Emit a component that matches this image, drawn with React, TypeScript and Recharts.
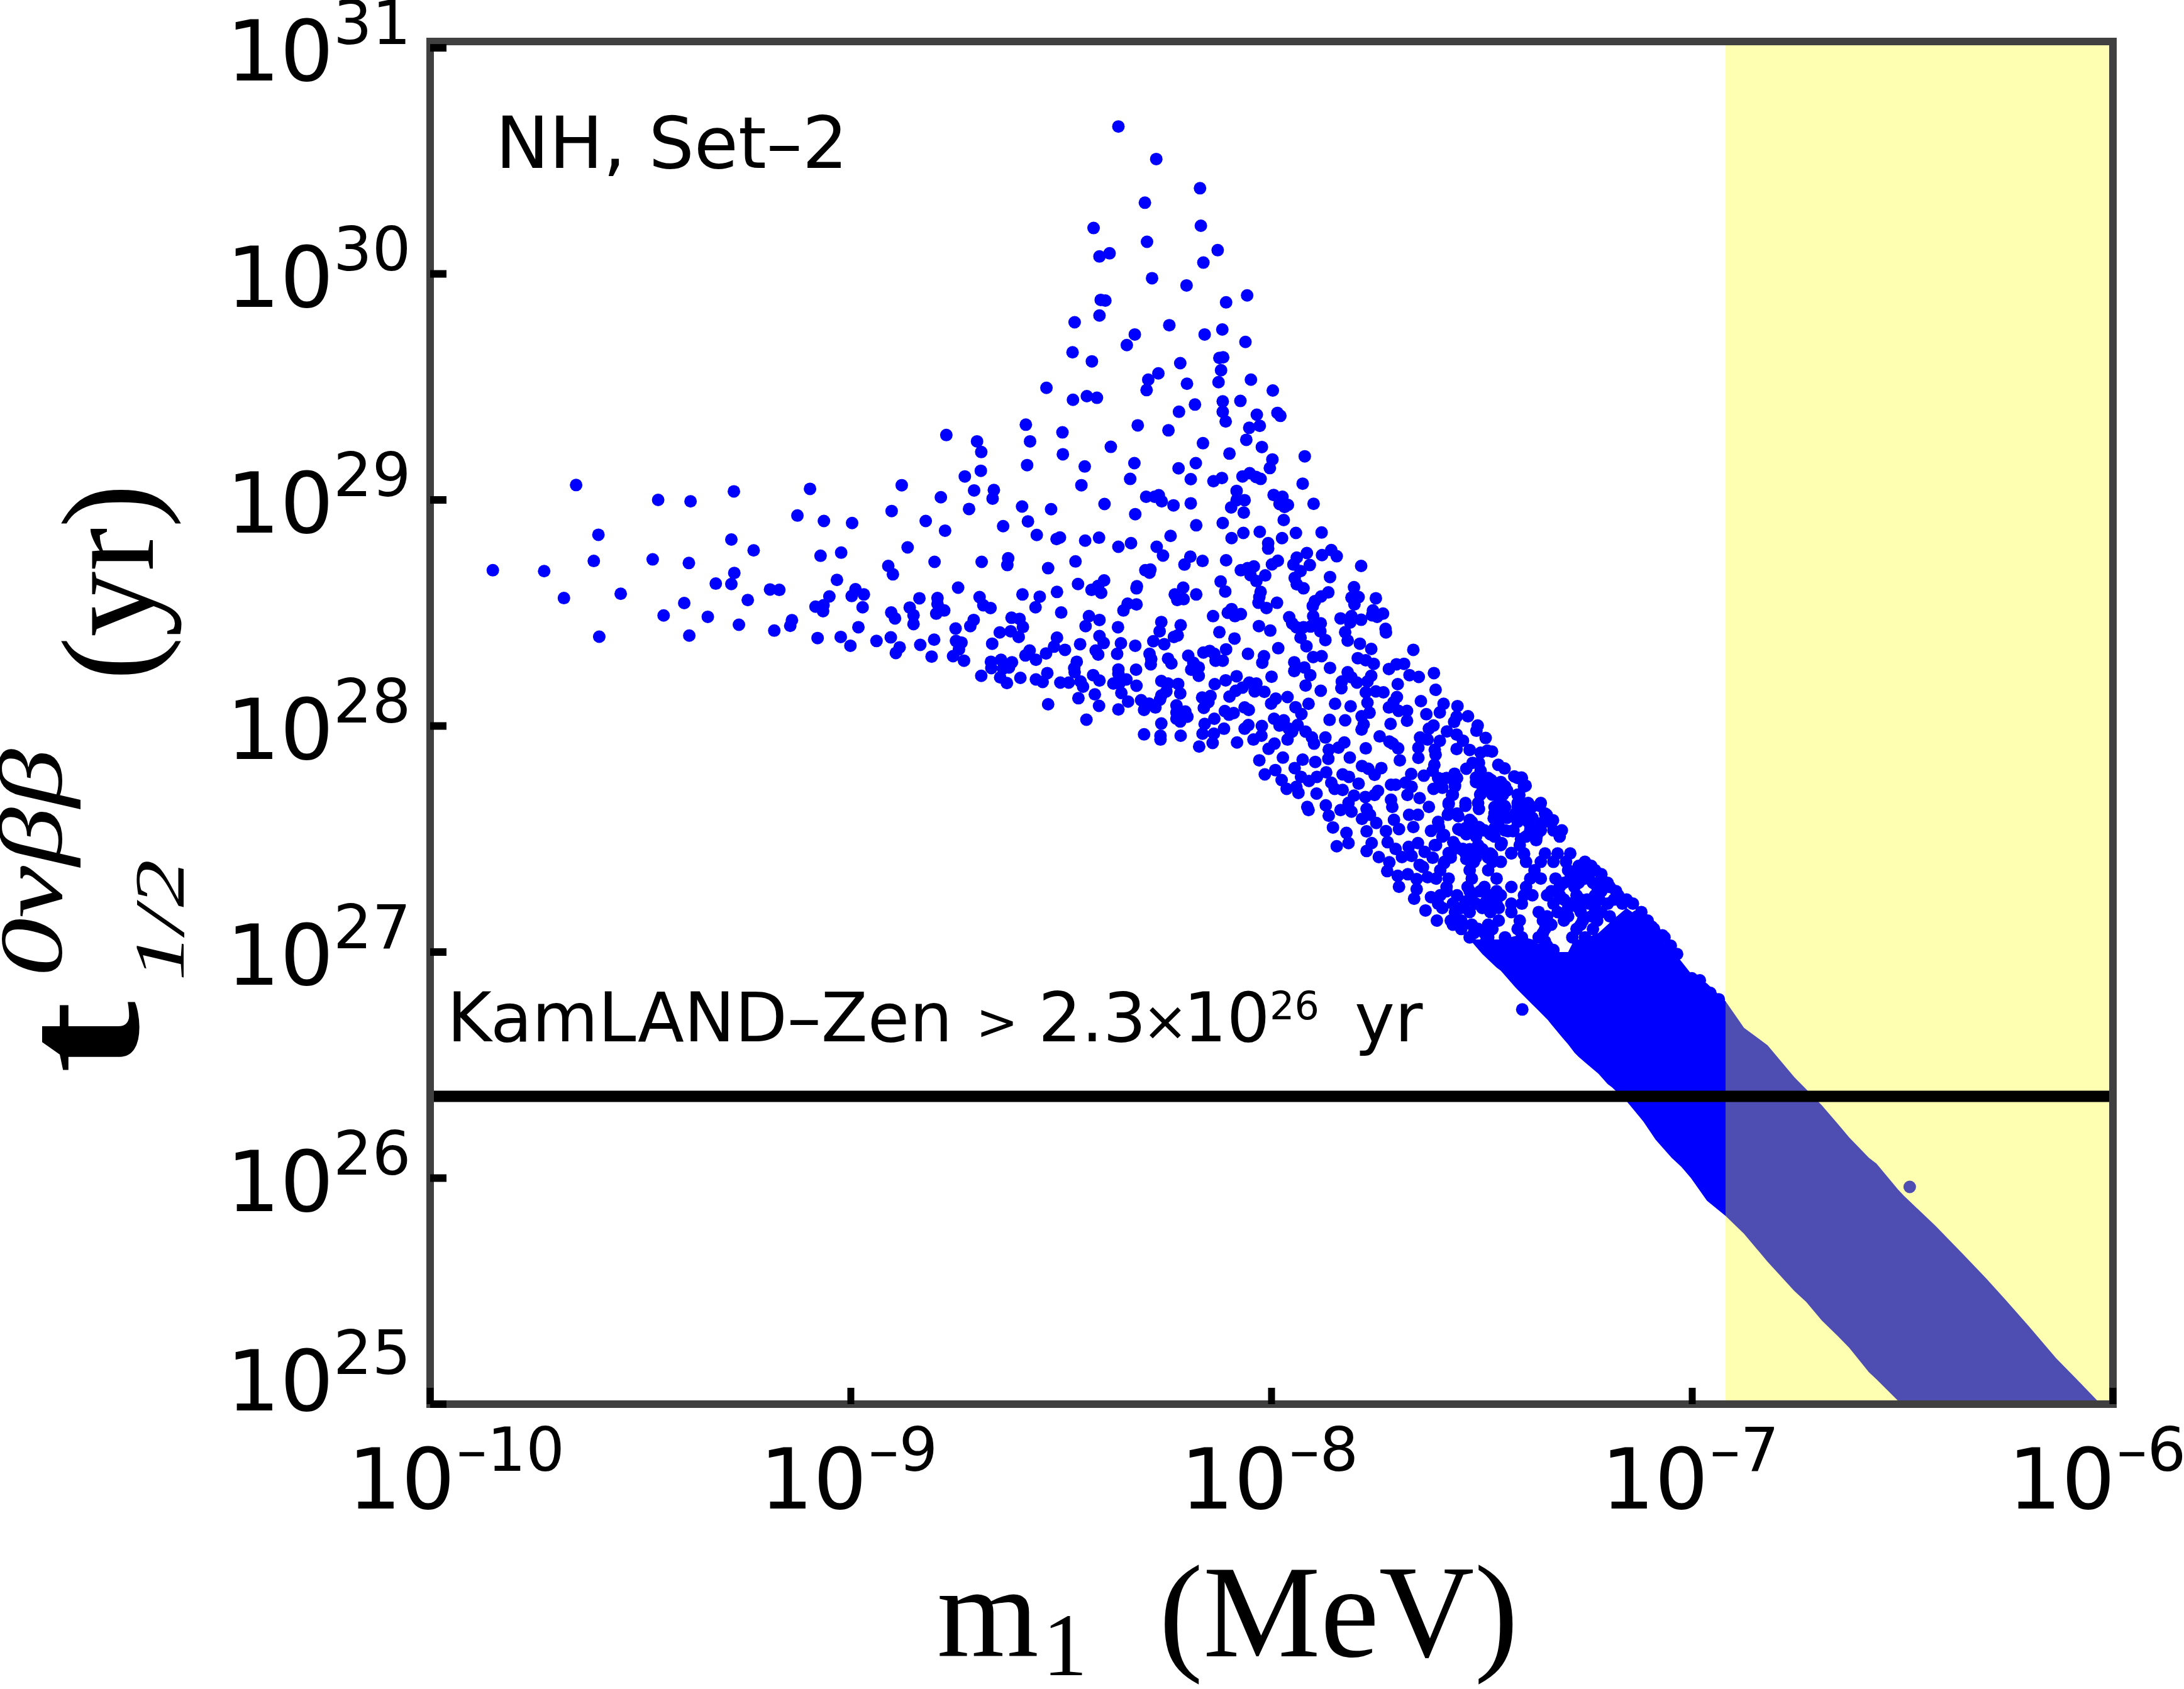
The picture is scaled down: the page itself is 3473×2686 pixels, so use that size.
import React from "react";
import { ComposedChart, Area, Scatter, XAxis, YAxis, ReferenceArea, ReferenceLine } from "recharts";

// All values are log10(m1 / MeV), log10(t / yr).
const xExponents = [-10, -9, -8, -7, -6];
const yExponents = [25, 26, 27, 28, 29, 30, 31];
const kamlandLimit = 2.3e26;
const excludedFrom = 1.2e-7;

const wingDots: number[][] = [
[-9.851,28.689],[-9.729,28.685],[-9.611,28.730],[-9.682,28.566],[-9.547,28.585],[-9.598,28.395],[-9.653,29.066],[-9.600,28.846],[-9.471,28.737],[-9.458,29.000],[-9.381,28.994],[-9.385,28.721],[-9.396,28.544],[-9.445,28.489],[-9.340,28.483],[-9.384,28.400],[-9.321,28.630],[-9.284,28.628],[-9.277,28.677],[-9.284,28.825],[-9.231,28.777],[-9.278,29.038],[-9.245,28.557],[-9.266,28.448],[-9.182,28.422],[-9.192,28.604],[-9.170,28.602],[-9.144,28.443],[-9.140,28.468],[-9.127,28.931],[-9.097,29.049],[-9.084,28.528],
];

const plumeDots: number[][] = [
[-8.364,30.652],[-8.274,30.508],[-8.170,30.379],[-8.301,30.315],[-8.168,30.213],[-8.423,30.203],[-8.296,30.142],[-8.128,30.105],[-8.385,30.091],[-8.409,30.077],[-8.162,30.050],[-8.284,29.981],[-8.202,29.949],[-8.058,29.905],[-8.406,29.885],[-8.395,29.882],[-8.108,29.874],[-8.409,29.816],[-8.468,29.786],[-8.243,29.773],[-8.117,29.754],[-8.325,29.732],[-8.159,29.732],[-8.062,29.699],[-8.344,29.685],[-8.473,29.653],[-8.427,29.613],[-8.115,29.631],[-8.124,29.628],[-8.217,29.605],[-8.120,29.574],[-8.269,29.560],[-8.293,29.532],[-8.049,29.532],[-8.126,29.521],[-8.201,29.514],[-8.535,29.496],[-8.297,29.486],[-7.997,29.484],[-8.439,29.459],[-8.415,29.452],[-8.472,29.443],[-8.116,29.436],[-8.074,29.438],[-8.182,29.422],[-8.220,29.390],[-8.116,29.390],[-7.986,29.385],[-7.979,29.372],[-8.035,29.377],[-8.109,29.347],[-8.584,29.333],[-8.318,29.330],[-8.028,29.328],[-8.053,29.319],[-8.245,29.308],[-8.497,29.299],[-8.773,29.287],[-8.060,29.266],[-8.700,29.259],[-8.574,29.259],[-8.163,29.251],[-8.382,29.235],[-8.023,29.234],[-8.690,29.212],[-8.100,29.205],[-8.496,29.202],[-7.921,29.193],[-7.998,29.179],[-8.326,29.163],[-8.180,29.163],[-8.581,29.154],[-8.444,29.148],[-8.004,29.141],[-8.221,29.140],[-8.691,29.129],[-8.069,29.104],[-8.052,29.118],[-8.037,29.102],[-8.026,29.093],[-8.729,29.104],[-8.336,29.093],[-8.192,29.092],[-8.118,29.097],[-8.138,29.083],[-8.879,29.065],[-8.452,29.065],[-7.926,29.072],[-8.707,29.042],[-8.660,29.044],[-8.083,29.040],[-7.995,29.022],[-8.663,29.006],[-8.298,29.014],[-8.268,29.021],[-8.278,29.014],[-8.261,28.994],[-7.974,29.014],[-8.786,29.012],[-8.064,28.999],[-8.083,28.999],[-8.397,28.982],[-7.900,28.983],[-8.192,28.985],[-8.233,28.976],[-7.981,28.982],[-7.961,28.978],[-7.969,28.969],[-8.096,28.967],[-8.593,28.971],[-8.719,28.960],[-8.524,28.959],[-8.903,28.951],[-8.066,28.944],[-8.324,28.937],[-9.064,28.907],[-8.997,28.898],[-8.822,28.907],[-7.971,28.911],[-8.579,28.905],[-8.116,28.898],[-8.179,28.888],[-8.638,28.884],[-7.881,28.856],[-8.776,28.864],[-7.942,28.854],[-8.028,28.859],[-8.067,28.854],[-8.558,28.845],[-8.240,28.841],[-8.503,28.834],[-8.511,28.827],[-8.410,28.833],[-8.095,28.831],[-7.975,28.831],[-8.443,28.820],[-8.334,28.809],[-8.008,28.809],[-8.008,28.785],[-8.364,28.793],[-8.273,28.793],[-8.865,28.790],[-9.023,28.767],[-7.858,28.778],[-7.916,28.765],[-7.880,28.756],[-7.845,28.751],[-9.072,28.753],[-8.258,28.754],[-8.193,28.749],[-7.940,28.745],[-8.626,28.742],[-8.164,28.730],[-8.108,28.733],[-7.985,28.731],[-8.689,28.726],[-8.801,28.726],[-8.466,28.728],[-8.628,28.712],[-8.207,28.714],[-7.999,28.715],[-7.948,28.714],[-7.909,28.712],[-8.911,28.708],[-8.042,28.706],[-8.057,28.698],[-8.073,28.689],[-7.787,28.708],[-8.531,28.698],[-8.300,28.689],[-8.288,28.692],[-8.290,28.678],[-7.931,28.685],[-8.900,28.671],[-8.015,28.666],[-8.050,28.667],[-8.036,28.641],[-7.945,28.655],[-7.861,28.659],[-8.121,28.639],[-9.033,28.646],[-8.398,28.644],[-8.460,28.628],[-8.745,28.612],[-7.940,28.627],[-7.804,28.614],[-8.320,28.618],[-8.321,28.609],[-7.924,28.609],[-8.210,28.612],[-8.428,28.602],[-8.412,28.620],[-8.989,28.605],[-8.405,28.589],[-8.110,28.595],[-8.510,28.593],[-8.026,28.593],[-8.029,28.570],[-7.865,28.591],[-8.969,28.582],[-8.998,28.575],[-8.592,28.582],[-8.230,28.582],[-8.179,28.582],[-7.882,28.573],[-9.051,28.573],[-8.551,28.572],[-8.694,28.570],[-7.810,28.568],[-7.793,28.570],[-7.752,28.565],[-8.794,28.566],[-8.837,28.565],[-8.209,28.561],[-8.224,28.557],[-7.897,28.552],[-8.342,28.541],[-8.321,28.538],[-7.987,28.545],[-7.803,28.538],[-8.031,28.545],[-7.902,28.531],[-8.685,28.534],[-8.668,28.522],[-8.794,28.540],[-9.065,28.534],[-8.972,28.525],[-8.860,28.524],[-8.561,28.525],[-8.012,28.522],[-8.352,28.511],[-8.095,28.517],[-8.500,28.502],[-8.904,28.502],[-9.066,28.508],[-8.104,28.501],[-8.073,28.495],[-8.778,28.511],[-8.797,28.497],[-7.759,28.511],[-7.735,28.497],[-8.087,28.486],[-8.851,28.490],[-8.895,28.476],[-8.139,28.486],[-7.901,28.486],[-8.434,28.486],[-7.958,28.481],[-7.836,28.476],[-7.810,28.486],[-7.787,28.470],[-7.761,28.490],[-7.749,28.483],[-8.618,28.479],[-8.599,28.474],[-8.708,28.469],[-8.409,28.469],[-8.262,28.460],[-7.813,28.458],[-7.883,28.454],[-7.951,28.454],[-8.716,28.442],[-8.851,28.451],[-8.216,28.446],[-8.442,28.442],[-8.030,28.442],[-7.941,28.437],[-7.924,28.437],[-7.907,28.440],[-8.591,28.438],[-8.365,28.437],[-8.751,28.431],[-8.266,28.419],[-8.620,28.419],[-8.646,28.414],[-8.003,28.422],[-7.729,28.430],[-7.728,28.414],[-7.884,28.419],[-7.825,28.415],[-8.124,28.415],[-8.982,28.437],[-8.223,28.401],[-8.232,28.394],[-8.409,28.398],[-8.601,28.394],[-9.024,28.394],[-8.510,28.391],[-8.905,28.392],[-7.931,28.391],[-8.088,28.387],[-7.872,28.380],[-9.079,28.389],[-8.939,28.376],[-8.802,28.382],[-8.750,28.376],[-8.737,28.369],[-7.819,28.378],[-8.281,28.375],[-8.399,28.367],[-8.255,28.362],[-8.358,28.366],[-8.835,28.359],[-9.001,28.355],[-8.664,28.364],[-8.455,28.362],[-8.324,28.355],[-7.790,28.364],[-7.917,28.353],[-8.517,28.351],[-8.884,28.348],[-7.984,28.344],[-7.663,28.337],[-8.575,28.334],[-8.491,28.337],[-8.743,28.339],[-8.418,28.334],[-8.108,28.339],[-7.763,28.341],[-8.162,28.325],[-8.147,28.332],[-8.893,28.323],[-8.536,28.321],[-8.367,28.319],[-8.290,28.319],[-8.412,28.316],[-8.136,28.319],[-8.585,28.312],[-8.056,28.319],[-8.198,28.311],[-8.808,28.307],[-8.757,28.309],[-8.018,28.309],[-7.901,28.305],[-7.881,28.309],[-8.286,28.296],[-8.246,28.298],[-8.560,28.293],[-8.731,28.289],[-7.795,28.300],[-8.133,28.289],[-8.116,28.289],[-8.463,28.284],[-8.643,28.293],[-8.617,28.282],[-8.667,28.284],[-8.238,28.277],[-7.946,28.282],[-8.186,28.280],[-8.022,28.280],[-8.287,28.273],[-7.685,28.275],[-7.703,28.273],[-7.776,28.291],[-7.757,28.275],[-8.469,28.256],[-8.624,28.259],[-8.666,28.256],[-8.638,28.254],[-7.861,28.257],[-7.721,28.252],[-8.182,28.268],[-8.173,28.259],[-7.946,28.243],[-7.922,28.259],[-8.322,28.249],[-8.364,28.250],[-8.191,28.249],[-8.468,28.238],[-8.364,28.231],[-8.533,28.234],[-7.819,28.238],[-7.614,28.234],[-8.424,28.225],[-7.908,28.225],[-8.690,28.222],[-8.173,28.222],[-7.672,28.225],[-8.645,28.215],[-8.597,28.213],[-8.000,28.218],[-7.650,28.217],[-8.083,28.220],[-8.560,28.206],[-8.409,28.201],[-8.345,28.206],[-8.262,28.199],[-8.109,28.202],[-7.810,28.215],[-7.763,28.222],[-7.772,28.197],[-8.629,28.190],[-8.544,28.195],[-8.502,28.192],[-8.482,28.192],[-8.454,28.197],[-8.376,28.188],[-8.362,28.188],[-8.246,28.188],[-8.222,28.186],[-8.053,28.192],[-8.036,28.188],[-8.135,28.185],[-7.833,28.197],[-7.797,28.192],[-8.448,28.174],[-8.321,28.178],[-7.919,28.179],[-7.700,28.185],[-7.834,28.167],[-8.069,28.170],[-8.357,28.146],[-8.250,28.153],[-8.085,28.156],[-7.883,28.156],[-7.610,28.160],[-8.040,28.153],[-8.017,28.151],[-7.776,28.149],[-7.752,28.153],[-7.734,28.149],[-8.420,28.140],[-8.100,28.130],[-8.262,28.135],[-8.217,28.144],[-8.165,28.126],[-8.145,28.133],[-8.341,28.108],[-8.459,28.123],[-7.702,28.128],[-7.962,28.128],[-7.990,28.121],[-8.310,28.114],[-8.001,28.099],[-7.912,28.098],[-7.772,28.103],[-7.849,28.098],[-8.291,28.099],[-8.150,28.106],[-7.645,28.110],[-8.265,28.117],[-7.710,28.105],[-8.531,28.096],[-8.410,28.089],[-8.226,28.091],[-8.276,28.082],[-7.812,28.087],[-8.161,28.080],[-7.943,28.083],[-8.064,28.082],[-8.364,28.073],[-8.303,28.071],[-8.054,28.071],[-7.591,28.098],[-7.721,28.082],[-7.698,28.067],[-7.678,28.067],[-8.111,28.066],[-7.929,28.053],[-8.226,28.060],[-8.205,28.064],[-8.090,28.057],[-8.101,28.050],[-7.600,28.060],[-7.632,28.052],[-7.767,28.059],[-8.200,28.041],[-7.786,28.043],[-7.994,28.032],[-8.136,28.032],[-8.226,28.032],[-7.862,28.027],[-8.217,28.020],[-8.440,28.028],[-7.825,28.025],[-7.678,28.023],[-7.971,28.025],[-7.717,28.009],[-8.159,28.009],[-8.262,28.011],[-8.055,28.004],[-7.781,28.007],[-8.023,28.000],[-8.113,27.988],[-8.064,27.988],[-7.981,28.002],[-7.615,28.002],[-7.938,28.004],[-7.959,27.988],[-7.786,27.984],[-7.626,27.988],[-7.951,27.975],[-8.164,27.966],[-8.264,27.957],[-8.303,27.963],[-8.216,27.957],[-8.137,27.966],[-8.024,27.957],[-7.919,27.975],[-7.904,27.949],[-8.043,27.940],[-8.264,27.940],[-7.872,27.949],[-8.082,27.927],[-7.827,27.927],[-7.743,27.954],[-7.647,27.949],[-7.629,27.940],[-7.600,27.934],[-7.720,27.931],[-7.712,27.922],[-8.140,27.925],[-8.172,27.909],[-7.993,27.922],[-7.962,27.940],[-8.007,27.899],[-7.899,27.922],[-7.841,27.904],[-7.776,27.901],[-7.699,27.901],[-7.651,27.904],[-7.612,27.895],[-7.864,27.895],
];

const tailDots: number[][] = [
[-7.558,28.088],[-7.533,28.043],[-7.510,28.002],[-7.513,27.979],[-7.491,27.947],[-7.560,28.041],[-7.566,28.018],[-7.583,27.976],[-7.560,27.962],[-7.545,27.935],[-7.560,27.898],[-7.529,27.894],[-7.487,27.891],[-7.476,27.887],[-7.503,27.882],[-7.814,27.860],[-7.973,27.860],[-8.029,27.848],[-7.695,27.848],[-7.651,27.859],[-7.610,27.873],[-7.461,27.828],[-7.446,27.812],[-7.522,27.837],[-7.537,27.811],[-7.613,27.828],[-7.507,27.837],[-7.503,27.802],[-7.991,27.805],[-8.016,27.786],[-7.945,27.814],[-7.926,27.851],[-7.896,27.841],[-7.865,27.855],[-7.565,27.789],[-7.668,27.788],[-7.638,27.780],[-7.831,27.786],[-7.816,27.775],[-7.870,27.795],[-7.785,27.823],[-7.770,27.811],[-7.739,27.814],[-7.755,27.784],[-7.423,27.777],[-7.406,27.772],[-7.396,27.736],[-7.478,27.761],[-7.514,27.772],[-7.617,27.802],[-7.594,27.766],[-7.976,27.761],[-7.930,27.775],[-7.911,27.757],[-7.892,27.775],[-7.964,27.722],[-7.941,27.731],[-7.936,27.704],[-7.858,27.749],[-7.850,27.722],[-7.831,27.717],[-7.793,27.745],[-7.747,27.713],[-7.682,27.749],[-7.705,27.740],[-7.716,27.740],[-7.667,27.731],[-7.615,27.722],[-7.594,27.727],[-7.564,27.740],[-7.503,27.699],[-7.446,27.727],[-7.468,27.722],[-7.484,27.740],[-7.893,27.701],[-7.677,27.695],[-7.648,27.681],[-7.755,27.695],[-7.777,27.686],[-7.804,27.692],[-7.571,27.695],[-7.411,27.695],[-7.461,27.686],[-7.716,27.674],[-7.817,27.660],[-7.915,27.642],[-7.871,27.649],[-7.836,27.628],[-7.810,27.621],[-7.713,27.642],[-7.626,27.642],[-7.579,27.654],[-7.539,27.647],[-7.507,27.633],[-7.465,27.642],[-7.446,27.646],[-7.362,27.647],[-7.381,27.642],[-7.411,27.642],[-7.774,27.633],[-7.912,27.628],[-7.864,27.603],[-7.785,27.589],[-7.766,27.607],[-7.673,27.607],[-7.652,27.607],[-7.581,27.607],[-7.556,27.601],[-7.472,27.592],[-7.423,27.603],[-7.346,27.607],[-7.404,27.598],[-7.331,27.583],[-7.854,27.551],[-7.709,27.585],[-7.751,27.571],[-7.663,27.553],[-7.529,27.585],[-7.556,27.544],[-7.602,27.553],[-7.621,27.536],[-7.507,27.553],[-7.461,27.571],[-7.438,27.535],[-7.384,27.553],[-7.358,27.571],[-7.822,27.527],[-7.774,27.534],[-7.728,27.535],[-7.697,27.544],[-7.590,27.518],[-7.537,27.521],[-7.480,27.521],[-7.453,27.482],[-7.407,27.500],[-7.371,27.495],[-7.845,27.468],[-7.817,27.482],[-7.762,27.482],[-7.724,27.486],[-7.612,27.473],[-7.568,27.486],[-7.652,27.482],[-7.426,27.535],[-7.774,27.447],[-7.674,27.465],[-7.705,27.456],[-7.636,27.443],[-7.579,27.438],[-7.545,27.456],[-7.507,27.443],[-7.476,27.429],[-7.430,27.438],[-7.400,27.433],[-7.745,27.420],[-7.617,27.417],[-7.690,27.420],[-7.667,27.425],[-7.720,27.397],[-7.590,27.393],[-7.648,27.385],[-7.537,27.411],[-7.725,27.358],[-7.676,27.344],[-7.640,27.376],[-7.700,27.337],[-7.655,27.323],[-7.629,27.331],[-7.697,27.289],[-7.655,27.278],[-7.661,27.236],[-7.621,27.243],[-7.634,27.184],
];

const strayDots: number[][] = [[-7.404, 26.746], [-6.483, 25.961]];

const crowdedDots: number[][] = [
[-7.604,27.770],[-7.584,27.770],[-7.559,27.770],[-7.509,27.770],[-7.485,27.770],[-7.415,27.770],[-7.405,27.770],
[-7.514,27.752],[-7.475,27.752],[-7.455,27.752],
[-7.599,27.733],[-7.564,27.733],[-7.499,27.733],[-7.465,27.733],[-7.445,27.733],[-7.400,27.733],
[-7.494,27.715],[-7.470,27.715],[-7.440,27.715],
[-7.569,27.696],[-7.504,27.696],[-7.475,27.696],[-7.450,27.696],[-7.415,27.696],
[-7.579,27.659],[-7.539,27.659],[-7.509,27.659],[-7.455,27.659],[-7.415,27.659],[-7.390,27.659],[-7.360,27.659],
[-7.470,27.641],[-7.445,27.641],[-7.415,27.641],[-7.395,27.641],
[-7.579,27.613],[-7.559,27.613],[-7.470,27.613],[-7.450,27.613],[-7.420,27.613],[-7.395,27.613],[-7.350,27.613],
[-7.465,27.594],[-7.440,27.594],[-7.405,27.594],[-7.380,27.594],
[-7.604,27.576],[-7.524,27.576],[-7.465,27.576],[-7.415,27.576],[-7.390,27.576],[-7.340,27.576],
[-7.539,27.548],[-7.504,27.548],[-7.470,27.548],
[-7.549,27.538],[-7.519,27.538],[-7.494,27.538],[-7.445,27.538],[-7.425,27.538],[-7.385,27.538],[-7.360,27.538],[-7.330,27.538],[-7.310,27.538],
[-7.594,27.511],[-7.514,27.511],[-7.470,27.511],[-7.395,27.511],[-7.370,27.511],[-7.315,27.511],
[-7.609,27.473],[-7.564,27.473],[-7.509,27.473],[-7.455,27.473],[-7.410,27.473],
[-7.549,27.455],[-7.529,27.455],[-7.499,27.455],
[-7.574,27.436],[-7.539,27.436],[-7.514,27.436],[-7.480,27.436],[-7.430,27.436],[-7.400,27.436],[-7.350,27.436],[-7.320,27.436],[-7.290,27.436],
[-7.574,27.418],[-7.514,27.418],[-7.485,27.418],
[-7.589,27.399],[-7.519,27.399],[-7.475,27.399],[-7.455,27.399],[-7.395,27.399],[-7.360,27.399],[-7.330,27.399],[-7.300,27.399],[-7.255,27.399],
[-7.270,27.381],[-7.240,27.381],
[-7.599,27.362],[-7.529,27.362],[-7.485,27.362],[-7.375,27.362],[-7.295,27.362],[-7.265,27.362],[-7.231,27.362],
[-7.275,27.344],[-7.245,27.344],[-7.216,27.344],
[-7.609,27.325],[-7.579,27.325],[-7.524,27.325],[-7.465,27.325],[-7.385,27.325],[-7.360,27.325],[-7.325,27.325],[-7.290,27.325],[-7.255,27.325],[-7.216,27.325],
[-7.305,27.306],[-7.270,27.306],[-7.236,27.306],[-7.201,27.306],
[-7.584,27.288],[-7.534,27.288],[-7.494,27.288],[-7.430,27.288],[-7.395,27.288],[-7.315,27.288],[-7.280,27.288],[-7.226,27.288],[-7.196,27.288],
[-7.584,27.269],[-7.529,27.269],[-7.504,27.269],[-7.465,27.269],[-7.335,27.269],[-7.216,27.269],[-7.181,27.269],
[-7.599,27.251],[-7.559,27.251],[-7.524,27.251],[-7.480,27.251],[-7.455,27.251],[-7.400,27.251],[-7.380,27.251],[-7.345,27.251],[-7.315,27.251],[-7.275,27.251],[-7.231,27.251],[-7.176,27.251],
[-7.305,27.232],[-7.265,27.232],[-7.250,27.232],[-7.221,27.232],[-7.186,27.232],[-7.156,27.232],
[-7.539,27.223],[-7.490,27.223],[-7.470,27.223],
[-7.604,27.214],[-7.569,27.214],[-7.514,27.214],[-7.465,27.214],[-7.430,27.214],[-7.405,27.214],[-7.330,27.214],[-7.290,27.214],[-7.245,27.214],[-7.201,27.214],[-7.166,27.214],[-7.141,27.214],
[-7.594,27.195],[-7.549,27.195],[-7.499,27.195],[-7.460,27.195],[-7.295,27.195],[-7.270,27.195],[-7.231,27.195],
[-7.564,27.177],[-7.529,27.177],[-7.480,27.177],[-7.430,27.177],[-7.365,27.177],[-7.320,27.177],[-7.265,27.177],[-7.216,27.177],[-7.121,27.177],
[-7.345,27.158],[-7.295,27.158],[-7.240,27.158],[-7.196,27.158],[-7.131,27.158],
[-7.607,27.139],[-7.574,27.139],[-7.549,27.139],[-7.460,27.139],[-7.410,27.139],[-7.355,27.139],[-7.305,27.139],[-7.260,27.139],[-7.226,27.139],[-7.106,27.139],
[-7.569,27.121],[-7.524,27.121],[-7.485,27.121],[-7.335,27.121],[-7.265,27.121],
[-7.549,27.102],[-7.509,27.102],[-7.475,27.102],[-7.415,27.102],[-7.350,27.102],[-7.275,27.102],[-7.236,27.102],[-7.091,27.102],
[-7.519,27.084],[-7.494,27.084],[-7.355,27.084],
[-7.529,27.065],[-7.485,27.065],[-7.445,27.065],[-7.405,27.065],[-7.365,27.065],[-7.285,27.065],[-7.255,27.065],[-7.181,27.065],[-7.086,27.065],[-7.066,27.065],
[-7.490,27.047],[-7.445,27.047],[-7.405,27.047],[-7.350,27.047],
[-7.345,27.028],[-7.051,27.028],
[-7.365,27.009],[-7.330,27.009],
[-7.036,26.991],
[-7.001,26.884],[-6.982,26.875],[-6.957,26.819],[-6.937,26.791],[-7.096,27.112],[-7.071,27.074],
];

// The solid part of the band: log10(m1), lower edge, upper edge.
const bandM1 = [-7.529,-7.499,-7.465,-7.455,-7.422,-7.415,-7.380,-7.370,-7.343,-7.335,-7.308,-7.295,-7.280,-7.270,-7.250,-7.223,-7.201,-7.191,-7.156,-7.116,-7.087,-7.049,-7.026,-7.003,-6.965,-6.921,-6.877,-6.821,-6.757,-6.729,-6.692,-6.654,-6.627,-6.580,-6.562,-6.511,-6.497,-6.422,-6.357,-6.302,-6.255,-6.200,-6.135,-6.079,-6.037];
const bandLow = [27.056,26.991,26.931,26.917,26.847,26.833,26.768,26.750,26.699,26.680,26.620,26.592,26.555,26.536,26.504,26.462,26.416,26.402,26.340,26.25,26.17,26.09,26.05,26.00,25.90,25.833,25.754,25.63,25.50,25.452,25.37,25.301,25.25,25.141,25.11,25.015,25,25,25,25,25,25,25,25,25];
const bandHigh = [27.056,27.056,27.056,27.056,27.070,27.074,27.056,27.042,27.005,27.000,27.000,27.000,27.056,27.056,27.065,27.084,27.121,27.139,27.195,27.139,27.075,27.012,26.959,26.905,26.861,26.783,26.665,26.588,26.446,26.393,26.322,26.24,26.180,26.09,26.064,25.95,25.922,25.789,25.665,25.558,25.461,25.345,25.203,25.097,25.015];

const dotTable = [...wingDots, ...plumeDots, ...tailDots, ...crowdedDots, ...strayDots].map(([a, b]) => ({ x: 10 ** a, y: 10 ** b }));
const bandTable = bandM1.map((a, i) => ({ x: 10 ** a, range: [10 ** bandLow[i], 10 ** bandHigh[i]] }));

const SANS = "'DejaVu Sans'";
const SERIF = "'Liberation Serif'";
const BLUE = "#0000ff";
const FRAME = "#404040";

function XTick(props: any) {
  const { x, y, payload } = props;
  const e = Math.round(Math.log10(payload.value));
  const shift = e === -10 ? 14 : e === -6 ? -22 : 0;
  return (
    <g>
      <rect x={x - 5.5} y={y - 26} width={11} height={26} fill="#000" />
      <text fontFamily={SANS} fill="#000">
        <tspan x={x - 145 + shift} y={y + 166} fontSize={134}>10</tspan>
        <tspan x={x + 28 + shift} y={y + 106} fontSize={97}>{"\u2013" + Math.abs(e)}</tspan>
      </text>
    </g>
  );
}

function YTick(props: any) {
  const { x, y, payload } = props;
  const e = Math.round(Math.log10(payload.value));
  const lift = e === 25 ? -42 : 0;
  return (
    <g>
      <rect x={x} y={y - 6} width={26} height={12} fill="#000" />
      <text fontFamily={SANS} fill="#000">
        <tspan x={x - 324} y={y + 52 + lift} fontSize={134}>10</tspan>
        <tspan x={x - 154} y={y - 6 + lift} fontSize={97}>{e}</tspan>
      </text>
    </g>
  );
}

const vertical = (x: number, y: number) => `rotate(-90 ${x} ${y})`;

export default function App() {
  return (
    <div style={{ position: "absolute", left: 0, top: 0, width: 3473, height: 2686, overflow: "hidden", background: "#fff" }}>
      <ComposedChart width={3473} height={2686} margin={{ top: 66, left: 683, right: 113, bottom: 452 }}>
        <XAxis dataKey="x" type="number" scale="log" domain={[1e-10, 1e-6]} ticks={xExponents.map((e) => 10 ** e)} interval={0}
          allowDataOverflow height={1} axisLine={false} tickLine={false} tickSize={0} tickMargin={0} tick={<XTick />} zIndex={800} />
        <YAxis dataKey="y" type="number" scale="log" domain={[1e25, 10 ** 31.028]} ticks={yExponents.map((e) => 10 ** e)} interval={0}
          allowDataOverflow width={1} axisLine={false} tickLine={false} tickSize={0} tickMargin={0} tick={<YTick />} zIndex={800} />
        <Area data={bandTable} dataKey="range" stroke="none" fill={BLUE} fillOpacity={1} dot={false} activeDot={false} isAnimationActive={false} />
        <Scatter data={dotTable} dataKey="y" fill={BLUE} isAnimationActive={false}
          shape={(p: any) => <circle cx={p.cx} cy={p.cy} r={10} fill={BLUE} />} />
        <ReferenceArea x1={excludedFrom} x2={1e-6} y1={1e25} y2={10 ** 31.028} fill="#ffff00" fillOpacity={0.3} stroke="none" zIndex={700} />
        <ReferenceLine y={kamlandLimit} stroke="#000" strokeWidth={18} zIndex={710} />
        <ReferenceArea x1={1e-10} x2={1e-6} y1={1e25} y2={10 ** 31.028} fill="none" fillOpacity={0} stroke={FRAME} strokeWidth={12} zIndex={720} />
        <text x={788} y={267} fontFamily={SANS} fontSize={114} fill="#000">NH, Set{"\u2013"}2</text>
        <text y={1656} fontFamily={SANS} fontSize={108} fill="#000">
          <tspan x={711}>KamLAND{"\u2013"}Zen</tspan>
          <tspan x={1552} y={1653} fontSize={80}>{">"}</tspan>
          <tspan x={1651} y={1656}>2.3</tspan>
          <tspan x={1816} y={1654} fontSize={88}>{"\u00d7"}</tspan>
          <tspan x={1882} y={1656}>10</tspan>
          <tspan x={2019} y={1621} fontSize={62}>26</tspan>
          <tspan x={2154} y={1656}>yr</tspan>
        </text>
        <text fontFamily={SERIF} fill="#000">
          <tspan x={1490} y={2634} fontSize={208}>m</tspan>
          <tspan x={1658} y={2664} fontSize={142}>1</tspan>
          <tspan x={1843} y={2634} fontSize={210}>(MeV)</tspan>
        </text>
        <text x={219} y={1707} transform={vertical(219, 1707)} fontFamily={SERIF} fontWeight="bold" fontSize={270} textLength={115} lengthAdjust="spacingAndGlyphs">t</text>
        <text x={98} y={1553} transform={vertical(98, 1553)} fontFamily={SERIF} fontStyle="italic" fontSize={142} textLength={362} lengthAdjust="spacingAndGlyphs">0{"\u03bd\u03b2\u03b2"}</text>
        <text x={292} y={1560} transform={vertical(292, 1560)} fontFamily={SERIF} fontStyle="italic" fontSize={112} textLength={193} lengthAdjust="spacingAndGlyphs">1/2</text>
        <text x={243} y={1082} transform={vertical(243, 1082)} fontFamily={SERIF} fontSize={210} textLength={312} lengthAdjust="spacingAndGlyphs">(yr)</text>
      </ComposedChart>
    </div>
  );
}
